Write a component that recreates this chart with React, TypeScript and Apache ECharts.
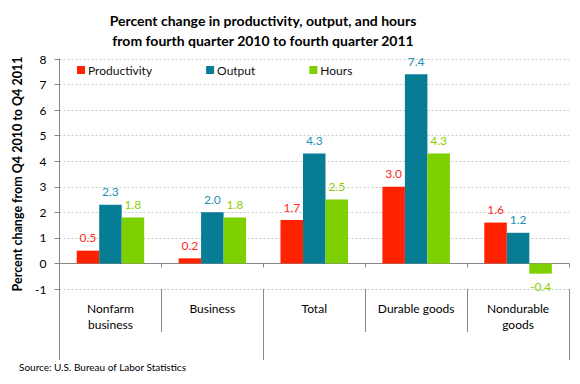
import React, { useEffect, useRef } from "react";
import * as echarts from "echarts";

const categories = ["Nonfarm\nbusiness", "Business", "Total", "Durable goods", "Nondurable\ngoods"];
const productivity = [0.5, 0.2, 1.7, 3.0, 1.6];
const output = [2.3, 2.0, 4.3, 7.4, 1.2];
const hours = [1.8, 1.8, 2.5, 4.3, -0.4];
const groupBoundaries = [0, 2, 5];

const FONT = "Lato";
const barColors = ["#ff2200", "#067c95", "#7fd000"];
const labelColors = ["#ff2a1a", "#2291b8", "#8cd000"];

function makeSeries(name: string, values: number[], i: number) {
  return {
    name,
    type: "bar",
    xAxisIndex: 0,
    barWidth: 22.5,
    barGap: "0%",
    itemStyle: { color: barColors[i] },
    label: {
      show: true,
      position: "top",
      distance: 7,
      color: labelColors[i],
      fontFamily: FONT,
      fontSize: 12,
      formatter: (p: any) => Number(p.value).toFixed(1),
    },
    data: values.map((v) => (v < 0 ? { value: v, label: { position: "bottom" } } : v)),
  };
}

export default function App() {
  const ref = useRef<HTMLDivElement>(null);
  useEffect(() => {
    if (!ref.current) return;
    const chart = echarts.init(ref.current, null, { renderer: "svg" });
    chart.setOption({
      animation: false,
      backgroundColor: "#ffffff",
      textStyle: { fontFamily: FONT },
      title: [
        {
          text: "Percent change in productivity, output, and hours\nfrom fourth quarter 2010 to fourth quarter 2011",
          left: 263,
          top: 10,
          padding: 0,
          textAlign: "center",
          textStyle: { fontFamily: FONT, fontSize: 14, fontWeight: "bold", color: "#000", lineHeight: 20 },
        },
        {
          text: "Source: U.S. Bureau of Labor Statistics",
          left: 19,
          top: 362,
          padding: 0,
          textStyle: { fontFamily: FONT, fontSize: 10, fontWeight: "normal", color: "#000" },
        },
      ],
      legend: {
        left: 77,
        top: 64,
        padding: 0,
        itemWidth: 8,
        itemHeight: 8,
        itemGap: 54,
        icon: "rect",
        textStyle: { fontFamily: FONT, fontSize: 12, color: "#111", padding: [0, 0, 0, -2] },
        data: ["Productivity", "Output", "Hours"],
      },
      grid: { left: 59.5, right: 11, top: 59, bottom: 95, containLabel: false },
      xAxis: [
        {
          type: "category",
          data: categories,
          axisLine: { onZero: true, lineStyle: { color: "#868686", width: 1 } },
          axisTick: { show: true, length: 4, lineStyle: { color: "#868686" } },
          axisLabel: { show: false },
          splitLine: { show: false },
        },
        {
          type: "category",
          data: categories,
          position: "bottom",
          axisLine: { show: false, onZero: false },
          axisTick: { show: true, length: 43, lineStyle: { color: "#868686" } },
          axisLabel: {
            show: true,
            margin: 11,
            fontFamily: FONT,
            fontSize: 12,
            lineHeight: 16.5,
            color: "#000",
            align: "center",
          },
          splitLine: { show: false },
        },
        {
          type: "value",
          min: 0,
          max: 5,
          position: "bottom",
          axisLine: { show: false, onZero: false },
          axisTick: { show: true, length: 71, customValues: groupBoundaries, lineStyle: { color: "#868686" } },
          axisLabel: { show: false },
          splitLine: { show: false },
        },
      ],
      yAxis: {
        type: "value",
        min: -1,
        max: 8,
        interval: 1,
        name: "Percent change from Q4 2010 to Q4 2011",
        nameLocation: "middle",
        nameGap: 31,
        nameTextStyle: { fontFamily: FONT, fontSize: 12.5, fontWeight: "bold", color: "#000" },
        axisLine: { show: true, lineStyle: { color: "#868686" } },
        axisTick: { show: true, length: 5, lineStyle: { color: "#868686" } },
        axisLabel: { margin: 13, fontFamily: FONT, fontSize: 12, color: "#000" },
        splitLine: { show: true, lineStyle: { color: "#c8c8c8", type: [2, 2], width: 1 } },
      },
      series: [
        makeSeries("Productivity", productivity, 0),
        makeSeries("Output", output, 1),
        makeSeries("Hours", hours, 2),
      ],
    });
    return () => chart.dispose();
  }, []);
  return <div ref={ref} style={{ width: 580, height: 384, margin: -8 }} />;
}
